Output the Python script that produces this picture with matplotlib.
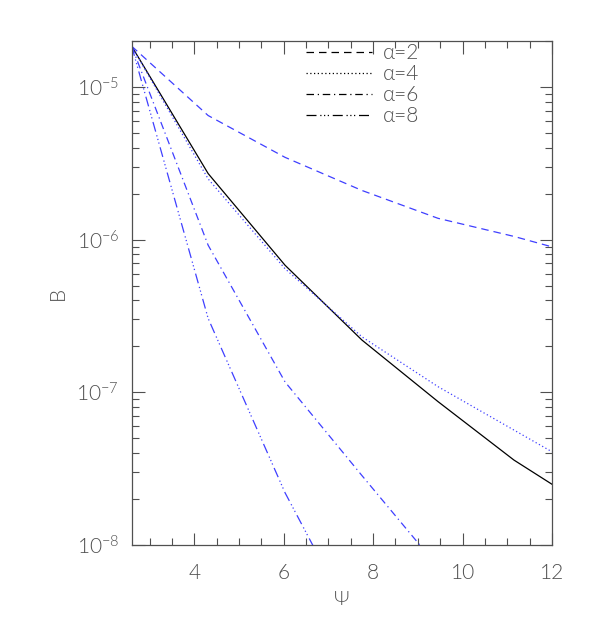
import numpy as np
import matplotlib
matplotlib.use('Agg')
import matplotlib.pyplot as plt
from matplotlib.lines import Line2D
from matplotlib.ticker import MultipleLocator, LogLocator, NullFormatter

# Psi grid
psi = [2.6, 4.31, 6.03, 7.75, 9.45, 11.15, 12.0]

# B values for each alpha, plus the solid black reference curve
b_ref = [1.85e-5, 2.71e-6, 6.8e-7, 2.2e-7, 8.7e-8, 3.6e-8, 2.5e-8]
b_a2 = [1.85e-5, 6.5e-6, 3.46e-6, 2.1e-6, 1.38e-6, 1.05e-6, 8.97e-7]
b_a4 = [1.85e-5, 2.5e-6, 6.45e-7, 2.31e-7, 1.09e-7, 5.66e-8, 4.08e-8]
b_a6 = [1.85e-5, 9.2e-7, 1.17e-7, 2.85e-8, 7.2e-9, 2.0e-9, 1.0e-9]
b_a8 = [1.85e-5, 3.05e-7, 2.2e-8, 2.45e-9, 4.0e-10, 1.0e-10, 5.0e-11]

labels = ['α=2', 'α=4', 'α=6', 'α=8']
styles = [(0, (6, 4)), (0, (1, 2)), (0, (6, 3, 1, 3)), (0, (8, 3, 1, 2, 1, 2, 1, 3))]

blue = '#3f3fff'
grey = '#505050'
plt.rcParams['font.family'] = ['Lato', 'DejaVu Sans']
plt.rcParams['font.weight'] = 300
plt.rcParams['mathtext.fontset'] = 'custom'
plt.rcParams['mathtext.rm'] = 'Lato:light'
plt.rcParams['mathtext.it'] = 'Lato:light'

fig = plt.figure(figsize=(5.91, 6.29), dpi=100)
ax = fig.add_axes([0.2228, 0.1335, 0.934 - 0.2228, 0.9348 - 0.1335])

ax.plot(psi, b_ref, color='black', lw=0.9)
for vals, ls in zip([b_a2, b_a4, b_a6, b_a8], styles):
    ax.plot(psi, vals, color=blue, lw=0.9, linestyle=ls)

ax.set_yscale('log')
ax.set_xlim(2.6, 12)
ax.set_ylim(1e-8, 2e-5)

ax.xaxis.set_major_locator(MultipleLocator(2))
ax.xaxis.set_minor_locator(MultipleLocator(0.5))
ax.yaxis.set_major_locator(LogLocator(base=10, numticks=10))
ax.yaxis.set_minor_locator(LogLocator(base=10, subs=np.arange(2, 10), numticks=10))
ax.yaxis.set_minor_formatter(NullFormatter())

ax.tick_params(which='both', direction='in', top=True, right=True,
               color=grey, labelcolor=grey, labelsize=15)
ax.tick_params(axis='x', pad=13)
ax.tick_params(axis='y', pad=9)
ax.tick_params(which='major', length=9, width=0.8)
ax.tick_params(which='minor', length=5, width=0.8)
for s in ax.spines.values():
    s.set_color(grey)
    s.set_linewidth(0.9)

ax.set_xlabel('Ψ', color=grey, fontsize=14, labelpad=6, fontweight=300)
ax.set_ylabel('B', color=grey, fontsize=15, labelpad=6, fontweight=300)

handles = [Line2D([0], [0], color='black', lw=0.9, linestyle=ls) for ls in styles]
leg = ax.legend(handles, labels, loc='upper left', bbox_to_anchor=(0.389, 1.016),
                frameon=False, fontsize=15, handlelength=3.2, handletextpad=0.5,
                labelspacing=0.05, borderaxespad=0.1)
for t in leg.get_texts():
    t.set_color(grey)

fig.savefig('out.png', dpi=100)
